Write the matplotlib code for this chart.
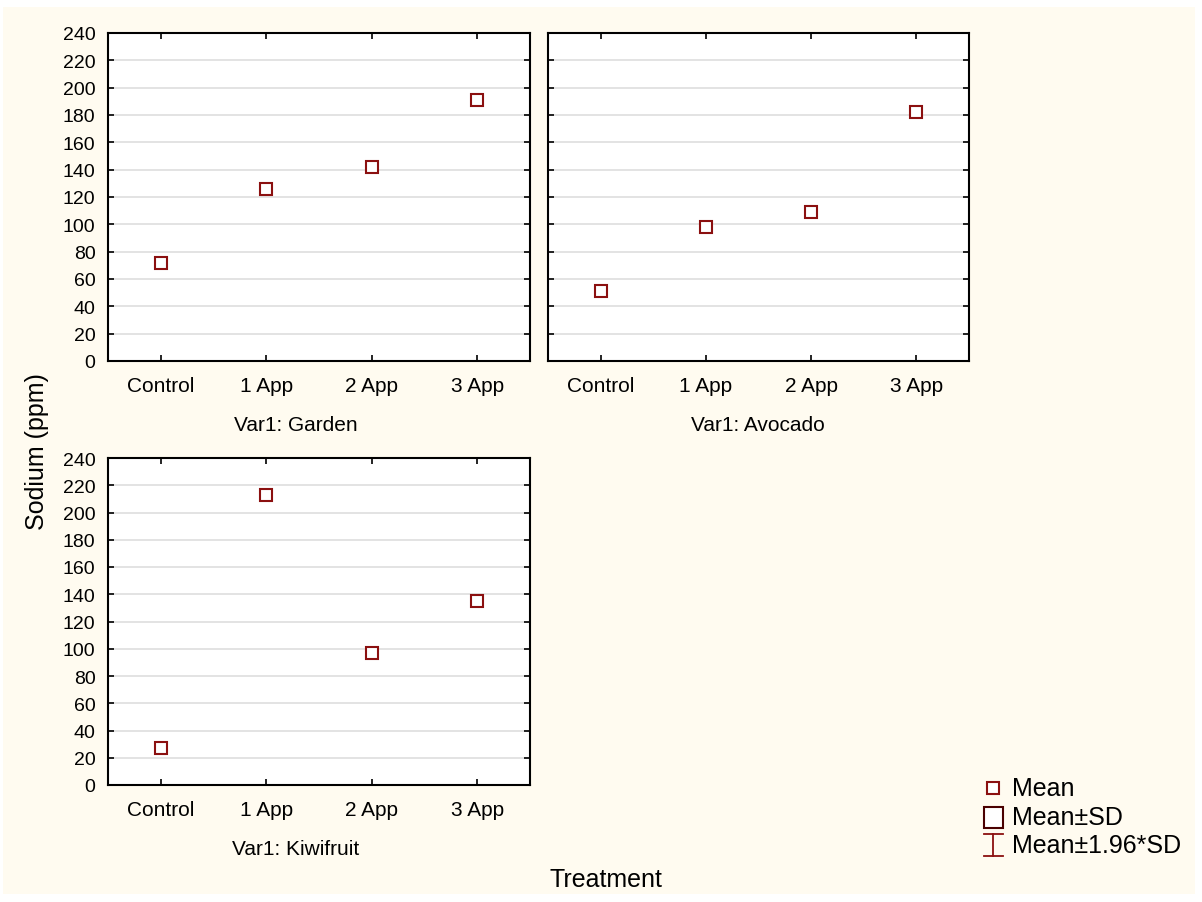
import numpy as np
import matplotlib
matplotlib.use('Agg')
import matplotlib.pyplot as plt
from matplotlib.patches import Rectangle

plt.rcParams['font.family'] = ['Liberation Sans', 'DejaVu Sans']

categories = ['Control', '1 App', '2 App', '3 App']
garden = [72, 126, 142, 191]
avocado = [51, 98, 109, 182]
kiwifruit = [27, 213, 97, 135]
panel_titles = ['Var1: Garden', 'Var1: Avocado', 'Var1: Kiwifruit']
legend_labels = ['Mean', 'Mean±SD', 'Mean±1.96*SD']
yticks = np.arange(0, 241, 20)

W, H = 1202, 903
fig = plt.figure(figsize=(W / 100, H / 100), dpi=100)
fig.patch.set_facecolor('white')
fig.patches.append(Rectangle((3 / W, 8 / H), 1192 / W, 887 / H, transform=fig.transFigure,
                             facecolor='#fffbf0', edgecolor='none', zorder=-10))

def px_box(l, t, r, b):
    return [l / W, 1 - b / H, (r - l) / W, (b - t) / H]

boxes = [px_box(108, 34, 530, 362), px_box(548, 34, 969, 362), px_box(108, 459, 530, 786)]
series = [garden, avocado, kiwifruit]
# panel captions are centred on the whole cell (tick labels included)
label_pos = [(296, 426), (758, 426), (296, 850)]
red = '#8b1010'

for i in range(3):
    ax = fig.add_axes(boxes[i])
    ax.set_facecolor('white')
    ax.plot(np.arange(len(categories)), series[i], ls='none', marker='s', ms=8,
            mfc='white', mec=red, mew=1.5, zorder=5)
    ax.set_xlim(-0.5, 3.5)
    ax.set_ylim(0, 240)
    ax.set_yticks(yticks)
    ax.set_xticks(np.arange(len(categories)))
    ax.set_xticklabels(categories, fontsize=15)
    if i == 1:
        ax.set_yticklabels([])
    else:
        ax.set_yticklabels([str(v) for v in yticks], fontsize=14)
    ax.tick_params(direction='in', length=4, width=1.2, top=True, right=True)
    ax.tick_params(axis='x', pad=11)
    ax.tick_params(axis='y', pad=9)
    ax.grid(axis='y', color='#dedede', lw=1.2)
    ax.set_axisbelow(True)
    for s in ax.spines.values():
        s.set_linewidth(1.5)
    lx, ly = label_pos[i]
    fig.text(lx / W, 1 - ly / H, panel_titles[i], ha='center', va='center', fontsize=15)

fig.text(37 / W, 1 - 452 / H, 'Sodium (ppm)', rotation=90, ha='center', va='center', fontsize=18)
fig.text(606 / W, 1 - 880 / H, 'Treatment', ha='center', va='center', fontsize=18)

# legend drawn in pixel space
lg = fig.add_axes([0, 0, 1, 1])
lg.set_xlim(0, W)
lg.set_ylim(H, 0)
lg.axis('off')
lg.patch.set_alpha(0)
lg.plot([993], [789], ls='none', marker='s', ms=8.5, mfc='white', mec=red, mew=1.5)
lg.add_patch(Rectangle((984, 808), 19, 21, facecolor='white', edgecolor='#4a0000', lw=1.5))
lg.plot([993, 993], [835, 857], color=red, lw=1.3)
lg.plot([984, 1003], [835, 835], color=red, lw=1.3)
lg.plot([984, 1003], [857, 857], color=red, lw=1.3)
for txt, yy in zip(legend_labels, [789, 818, 846]):
    lg.text(1012, yy, txt, ha='left', va='center', fontsize=18)

fig.savefig('out.png', dpi=100, facecolor=fig.get_facecolor())
